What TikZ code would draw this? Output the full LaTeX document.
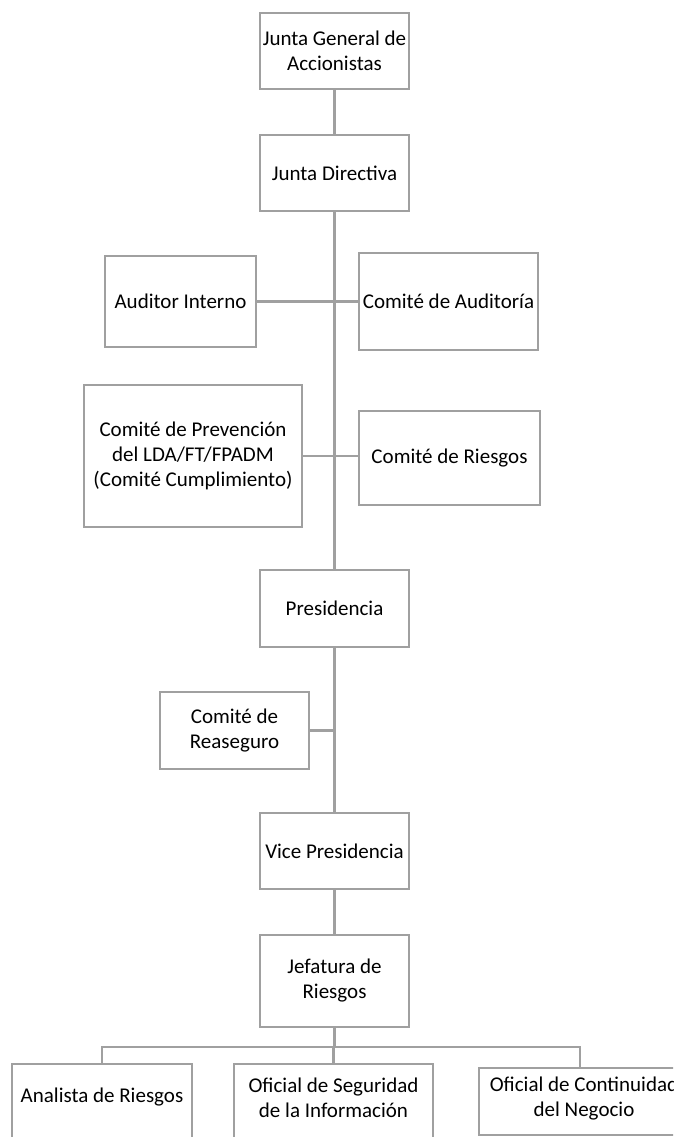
\documentclass[tikz,border=0pt]{standalone}
\usepackage{fontspec}
\setmainfont{Carlito}
\definecolor{linegray}{RGB}{160,160,160}
\begin{document}
\begin{tikzpicture}[x=1pt,y=-1pt,
  box/.style={draw=linegray,line width=2.8pt,fill=white,inner sep=0pt,align=center,
    font=\fontsize{21}{25}\selectfont,anchor=center},
  lbl/.style={inner sep=0pt,align=center,font=\fontsize{21}{25}\selectfont,anchor=center},
  conn/.style={draw=linegray,line width=2.8pt}]
\useasboundingbox (0,0) rectangle (673,1137);
\clip (0,0) rectangle (673,1137);
\fill[white] (0,0) rectangle (673,1137);
% boxes
\node[box,minimum width=149pt,minimum height=76pt] (jga) at (334.5,51) {Junta General de\\Accionistas};
\node[box,minimum width=149pt,minimum height=76pt] (jd) at (334.5,173) {Junta Directiva};
\node[box,minimum width=151pt,minimum height=91pt] (ai) at (180.5,301.5) {Auditor Interno};
\node[box,minimum width=179pt,minimum height=97pt] (ca) at (448.5,301.5) {Comité de Auditoría};
\node[box,minimum width=218pt,minimum height=142pt] (cp) at (193,456) {Comité de Prevención\\del LDA/FT/FPADM\\(Comité Cumplimiento)};
\node[box,minimum width=181pt,minimum height=94pt] (cr) at (449.5,458) {Comité de Riesgos};
\node[box,minimum width=149pt,minimum height=77pt] (pr) at (334.5,608.5) {Presidencia};
\node[box,minimum width=149pt,minimum height=77pt] (crs) at (234.5,730.5) {Comité de\\Reaseguro};
\node[box,minimum width=149pt,minimum height=76pt] (vp) at (334.5,851) {Vice Presidencia};
\node[box,minimum width=149pt,minimum height=92pt] (jr) at (334.5,981) {Jefatura de\\Riesgos};
\node[box,minimum width=180pt,minimum height=100pt] (an) at (102,1114) {};
\node[lbl] (antxt) at (102,1097) {Analista de Riesgos};
\node[box,minimum width=199pt,minimum height=100pt] (os) at (333.5,1114) {};
\node[lbl] (ostxt) at (333.5,1097.5) {Oficial de Seguridad\\de la Información};
\node[box,minimum width=202pt,minimum height=67pt] (oc) at (580,1101.5) {};
\node[lbl] (octxt) at (584,1098) {Oficial de Continuidad\\del Negocio};
\coordinate (bus) at (334.5,1047);
% connectors
\draw[conn] (jga.south) -- (jd.north);
\draw[conn] (jd.south) -- (pr.north);
\draw[conn] (ai.east) -- (ca.west);
\draw[conn] (cp.east) -- (cp.east -| cr.west);
\draw[conn] (crs.east) -- (crs.east -| pr.south);
\draw[conn] (pr.south) -- (vp.north);
\draw[conn] (vp.south) -- (jr.north);
\draw[conn] (jr.south) -- (jr.south |- bus);
\draw[conn] (an.north) -- (an.north |- bus) -- (oc.north |- bus) -- (oc.north);
\draw[conn] (os.north) -- (os.north |- bus);
\end{tikzpicture}
\end{document}
